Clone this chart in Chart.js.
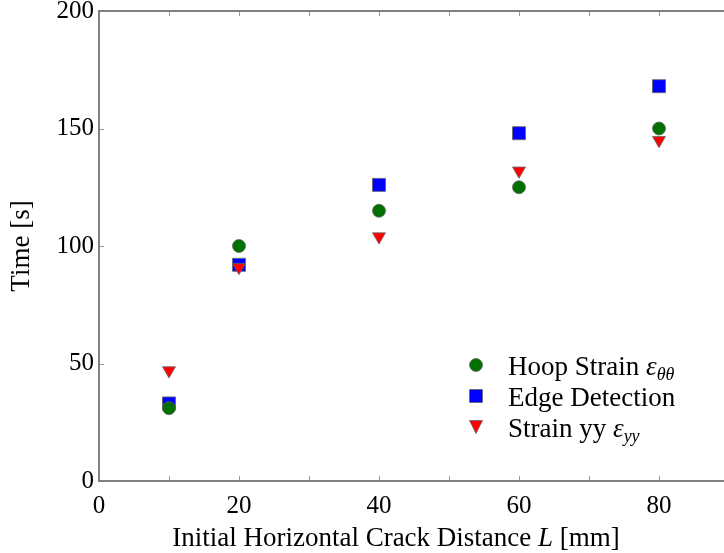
<!DOCTYPE html>
<html>
<head>
<title>Crack distance vs time</title>
<script src="https://cdn.jsdelivr.net/npm/chart.js"></script>
<style>
  html, body { margin: 0; padding: 0; overflow: hidden; background: #fff; }
  #wrap { width: 740px; height: 553px; }
</style>
</head>
<body>
<div id="wrap"><canvas id="c" width="740" height="553"></canvas></div>
<script>
// data
const crackDist = [10, 20, 40, 60, 80];
const hoopStrain = [31, 100, 115, 125, 150];
const edgeDetect = [33, 92, 126, 148, 168];
const strainYY = [47, 91, 104, 132, 145];
const xTickLabels = [0, 20, 40, 60, 80];
const yTickLabels = [0, 50, 100, 150, 200];

const SERIF = '"Liberation Serif", "DejaVu Serif", serif';
const AXIS_GREY = '#808080';

function pts(ys) {
    return crackDist.map((x, i) => ({ x: x, y: ys[i] }));
}

// draw a line of text made of several runs (for italic / subscripts)
function drawRuns(ctx, runs, x, y) {
    let cx = x;
    runs.forEach(r => {
        ctx.font = r.font;
        ctx.fillText(r.text, cx, y + (r.dy || 0));
        cx += ctx.measureText(r.text).width;
    });
    return cx - x;
}
function runsWidth(ctx, runs) {
    let w = 0;
    runs.forEach(r => { ctx.font = r.font; w += ctx.measureText(r.text).width; });
    return w;
}

function marker(ctx, style, x, y, color) {
    ctx.save();
    ctx.fillStyle = color;
    ctx.strokeStyle = '#666';
    ctx.lineWidth = 0.8;
    ctx.beginPath();
    if (style === 'circle') {
        ctx.arc(x, y, 6.5, 0, Math.PI * 2);
    } else if (style === 'rect') {
        ctx.rect(x - 6.5, y - 6.5, 13, 13);
    } else {
        ctx.moveTo(x - 6.5, y - 6.5);
        ctx.lineTo(x + 6.5, y - 6.5);
        ctx.lineTo(x, y + 6.5);
        ctx.closePath();
    }
    ctx.fill();
    ctx.stroke();
    ctx.restore();
}

const framePlugin = {
    id: 'frame',
    afterDraw(chart) {
        const ctx = chart.ctx;
        const a = chart.chartArea;
        const xs = chart.scales.x, ys = chart.scales.y;
        ctx.save();
        // ticks pointing inward on all four sides
        ctx.strokeStyle = '#999';
        ctx.lineWidth = 1;
        ctx.beginPath();
        xs.ticks.forEach(t => {
            const px = Math.round(xs.getPixelForValue(t.value)) + 0.5;
            ctx.moveTo(px, a.bottom); ctx.lineTo(px, a.bottom - 5);
            ctx.moveTo(px, a.top); ctx.lineTo(px, a.top + 5);
        });
        ys.ticks.forEach(t => {
            const py = Math.round(ys.getPixelForValue(t.value)) + 0.5;
            ctx.moveTo(a.left, py); ctx.lineTo(a.left + 5, py);
            ctx.moveTo(a.right, py); ctx.lineTo(a.right - 5, py);
        });
        ctx.stroke();
        // axes box
        ctx.strokeStyle = AXIS_GREY;
        ctx.lineWidth = 2;
        ctx.strokeRect(a.left, a.top, a.right - a.left, a.bottom - a.top);

        ctx.fillStyle = '#000';
        ctx.textBaseline = 'alphabetic';
        // y title
        ctx.save();
        ctx.translate(29, (a.top + a.bottom) / 2);
        ctx.rotate(-Math.PI / 2);
        ctx.font = '27px ' + SERIF;
        ctx.textAlign = 'center';
        ctx.fillText('Time [s]', 0, 0);
        ctx.restore();

        // x title
        const xRuns = [
            { text: 'Initial Horizontal Crack Distance ', font: '27px ' + SERIF },
            { text: 'L', font: 'italic 27px ' + SERIF },
            { text: ' [mm]', font: '27px ' + SERIF }
        ];
        const w = runsWidth(ctx, xRuns);
        drawRuns(ctx, xRuns, 396 - w / 2, 546);

        // legend inside the axes
        const rows = [
            { style: 'circle', color: '#007000', y: 365, runs: [
                { text: 'Hoop Strain ', font: '27px ' + SERIF },
                { text: 'ε', font: 'italic 27px ' + SERIF },
                { text: 'θθ', font: 'italic 18px ' + SERIF, dy: 5 }] },
            { style: 'rect', color: '#0000ff', y: 396, runs: [
                { text: 'Edge Detection', font: '27px ' + SERIF }] },
            { style: 'tri', color: '#ff0000', y: 427, runs: [
                { text: 'Strain yy ', font: '27px ' + SERIF },
                { text: 'ε', font: 'italic 27px ' + SERIF },
                { text: 'yy', font: 'italic 18px ' + SERIF, dy: 5 }] }
        ];
        rows.forEach(r => {
            marker(ctx, r.style, 476, r.y, r.color);
            ctx.fillStyle = '#000';
            drawRuns(ctx, r.runs, 508, r.y + 10);
        });
        ctx.restore();
    }
};

const ptStyle = { borderColor: '#666', borderWidth: 0.8, showLine: false };

new Chart(document.getElementById('c'), {
    type: 'scatter',
    data: {
        datasets: [
            Object.assign({
                label: 'Hoop Strain εθθ', data: pts(hoopStrain), order: 1,
                pointStyle: 'circle', pointRadius: 6.5, backgroundColor: '#007000'
            }, ptStyle),
            Object.assign({
                label: 'Edge Detection', data: pts(edgeDetect), order: 2,
                pointStyle: 'rect', pointRadius: 9.2, backgroundColor: '#0000ff'
            }, ptStyle),
            Object.assign({
                label: 'Strain yy εyy', data: pts(strainYY), order: 0,
                pointStyle: 'triangle', pointRadius: 7.5, pointRotation: 180,
                backgroundColor: '#ff0000'
            }, ptStyle)
        ]
    },
    options: {
        responsive: false,
        animation: false,
        devicePixelRatio: 1,
        layout: { padding: { top: 11, right: 11, left: 0, bottom: 0 } },
        plugins: { legend: { display: false }, tooltip: { enabled: false } },
        scales: {
            x: {
                type: 'linear', min: 0, max: 90,
                grid: { display: false, drawTicks: false }, border: { display: false },
                ticks: {
                    stepSize: 10, padding: 10, color: '#000', maxRotation: 0, autoSkip: false,
                    font: { family: SERIF, size: 25 },
                    callback: v => xTickLabels.includes(v) ? String(v) : ''
                },
                afterFit(s) { s.height = 72; s.paddingLeft = 0; s.paddingRight = 0; }
            },
            y: {
                type: 'linear', min: 0, max: 200,
                grid: { display: false, drawTicks: false }, border: { display: false },
                ticks: {
                    stepSize: 50, padding: 5, color: '#000',
                    font: { family: SERIF, size: 25 },
                    callback: v => yTickLabels.includes(v) ? String(v) : ''
                },
                afterFit(s) { s.width = 99; s.paddingTop = 0; s.paddingBottom = 0; }
            }
        }
    },
    plugins: [framePlugin]
});
</script>
</body>
</html>
